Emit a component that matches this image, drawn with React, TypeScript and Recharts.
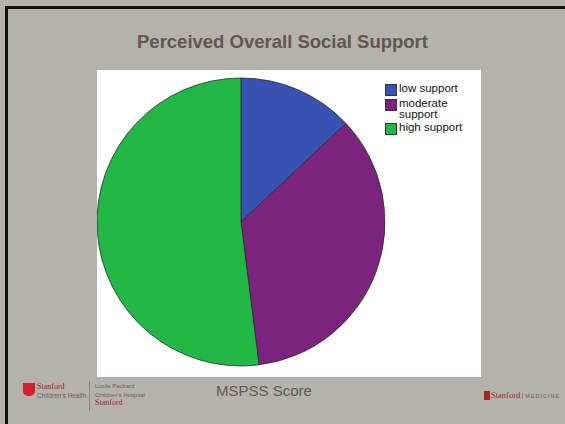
import { PieChart, Pie, Cell, Legend } from 'recharts';

const categories = ['low support', 'moderate support', 'high support'];
const shares = [13, 35, 52];
const colors = ['#3953b3', '#7b247e', '#22b746'];

const data = categories.map((name, i) => ({ name, value: shares[i] }));

function SupportLegend() {
  return (
    <div style={{ fontFamily: 'Liberation Sans, Arial, sans-serif', fontSize: 11.5, lineHeight: '11px', color: '#111' }}>
      {data.map((d, i) => (
        <div key={d.name} style={{ display: 'flex', alignItems: 'flex-start', marginBottom: 2 }}>
          <span
            style={{
              width: 10,
              height: 10,
              marginTop: 1,
              marginRight: 2,
              background: colors[i],
              border: '1px solid #333',
              flexShrink: 0,
            }}
          />
          <span style={{ width: i === 1 ? 60 : 80 }}>{d.name}</span>
        </div>
      ))}
    </div>
  );
}

export default function App() {
  return (
    <div
      style={{
        position: 'fixed',
        left: 0,
        top: 0,
        width: 565,
        height: 424,
        background: '#b5b1ab',
        overflow: 'hidden',
        fontFamily: 'Liberation Sans, Arial, sans-serif',
      }}
    >
      <div style={{ position: 'absolute', left: 5, top: 6, width: 560, height: 3, background: '#111' }} />
      <div style={{ position: 'absolute', left: 5, top: 6, width: 3, height: 418, background: '#111' }} />

      <div
        style={{
          position: 'absolute',
          left: 0,
          width: 565,
          top: 31,
          textAlign: 'center',
          fontSize: 18.5,
          fontWeight: 'bold',
          color: '#5e5752',
        }}
      >
        Perceived Overall Social Support
      </div>

      <div
        style={{
          position: 'absolute',
          left: 97,
          top: 70,
          width: 384,
          height: 308,
          background: '#fff',
          borderBottom: '1px solid #8fb4d8',
          boxSizing: 'border-box',
        }}
      >
        <PieChart width={384} height={307} margin={{ top: 0, right: 0, bottom: 0, left: 0 }}>
          <Pie
            data={data}
            dataKey="value"
            nameKey="name"
            cx={144}
            cy={152}
            outerRadius={144}
            startAngle={90}
            endAngle={-270}
            stroke="#2b2b2b"
            strokeWidth={0.8}
            isAnimationActive={false}
          >
            {data.map((d, i) => (
              <Cell key={d.name} fill={colors[i]} />
            ))}
          </Pie>
          <Legend
            layout="vertical"
            content={<SupportLegend />}
            wrapperStyle={{ left: 288, top: 13, width: 95 }}
          />
        </PieChart>
      </div>

      <div style={{ position: 'absolute', left: 216, top: 382, fontSize: 15, color: '#5f5a56' }}>
        MSPSS Score
      </div>

      <div
        style={{
          position: 'absolute',
          left: 23,
          top: 383,
          width: 12,
          height: 13,
          background: '#d4202f',
          borderRadius: '0 0 5px 5px',
        }}
      />
      <div style={{ position: 'absolute', left: 37, top: 382, fontSize: 6.5, lineHeight: '9px', whiteSpace: 'nowrap' }}>
        <div style={{ color: '#a3262e', fontFamily: 'Liberation Serif, serif', fontSize: 8 }}>Stanford</div>
        <div style={{ color: '#6a6560' }}>Children's Health</div>
      </div>
      <div style={{ position: 'absolute', left: 89, top: 381, width: 1, height: 30, background: '#8f8a84' }} />
      <div style={{ position: 'absolute', left: 95, top: 382, fontSize: 6, lineHeight: '8.5px', whiteSpace: 'nowrap' }}>
        <div style={{ color: '#6a6560' }}>Lucile Packard</div>
        <div style={{ color: '#6a6560' }}>Children's Hospital</div>
        <div style={{ color: '#a3262e', fontFamily: 'Liberation Serif, serif', fontSize: 8 }}>Stanford</div>
      </div>

      <div style={{ position: 'absolute', left: 484, top: 391, width: 6, height: 9, background: '#a3262e' }} />
      <div style={{ position: 'absolute', left: 491, top: 390, fontSize: 7.5, whiteSpace: 'nowrap' }}>
        <span style={{ fontFamily: 'Liberation Serif, serif', color: '#a3262e', fontSize: 8.5 }}>Stanford</span>
        <span style={{ color: '#6a6560', marginLeft: 2, borderLeft: '1px solid #8f8a84', paddingLeft: 2, fontSize: 5.5, letterSpacing: 1 }}>
          MEDICINE
        </span>
      </div>
    </div>
  );
}
